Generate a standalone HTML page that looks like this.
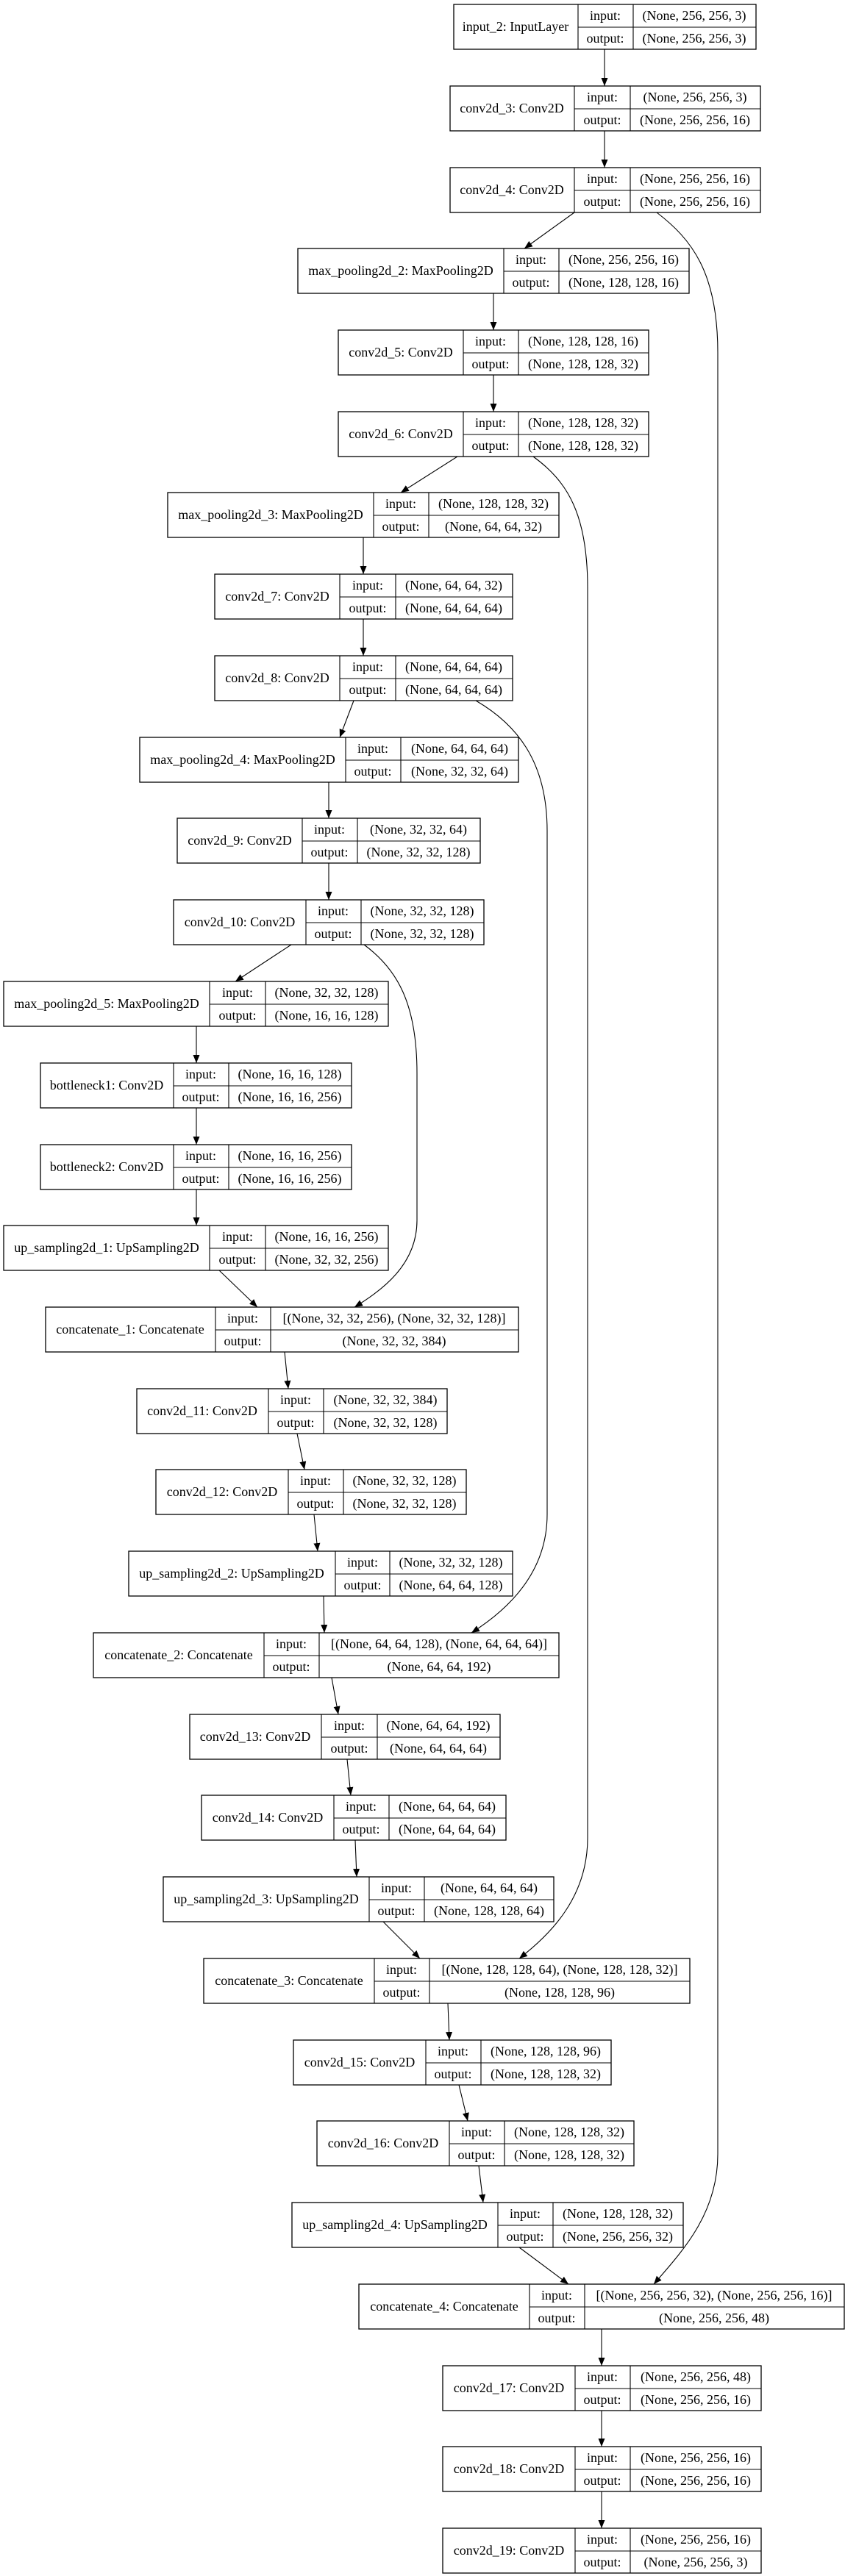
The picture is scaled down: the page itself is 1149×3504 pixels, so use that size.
<!DOCTYPE html>
<html><head><meta charset="utf-8"><style>
html,body{margin:0;padding:0;background:#fff}
svg{display:block}
text{font-family:"Liberation Serif","Times New Roman",serif;font-size:18px;fill:#000;text-anchor:middle}
.b{fill:#fff;stroke:#000;stroke-width:1.3}
.l{stroke:#000;stroke-width:1.1;fill:none}
</style></head><body>
<svg width="1149" height="3504" viewBox="0 0 1149 3504" xmlns="http://www.w3.org/2000/svg">
<defs><marker id="a" markerUnits="userSpaceOnUse" markerWidth="12" markerHeight="10" refX="11" refY="4.5" orient="auto"><path d="M0,0 L11,4.5 L0,9 z" fill="#000"/></marker></defs>
<g class="l" marker-end="url(#a)">
<path d="M822,67 L822,117"/><path d="M822,178 L822,228"/><path d="M781,289 L713,338"/>
<path d="M671,399 L671,449"/><path d="M671,510 L671,560"/><path d="M622,621 L545,670"/>
<path d="M494,731 L494,781"/><path d="M494,842 L494,892"/><path d="M481,953 L462,1003"/>
<path d="M447,1064 L447,1113"/><path d="M447,1174 L447,1224"/><path d="M396,1285 L320,1335"/>
<path d="M267,1396 L267,1446"/><path d="M267,1507 L267,1557"/><path d="M267,1618 L267,1667"/>
<path d="M298,1728 L350,1778"/><path d="M387,1839 L392,1889"/><path d="M404,1950 L414,1999"/>
<path d="M427,2060 L432,2110"/><path d="M440,2171 L441,2221"/><path d="M451,2282 L460,2332"/>
<path d="M472,2393 L477,2442"/><path d="M483,2503 L485,2553"/><path d="M521,2614 L571,2664"/>
<path d="M609,2725 L611,2775"/><path d="M624,2836 L636,2885"/><path d="M651,2946 L657,2996"/>
<path d="M706,3057 L773,3107"/><path d="M818,3168 L818,3218"/><path d="M818,3279 L818,3328"/>
<path d="M818,3389 L818,3439"/>
<path d="M893,289 C940,325 976,370 976,480 L976,2930 C976,3010 930,3060 889,3107"/>
<path d="M725,621 C772,655 799,700 799,800 L799,2500 C799,2580 750,2630 706,2664"/>
<path d="M647,953 C702,985 744,1035 744,1130 L744,2060 C744,2140 690,2190 641,2221"/>
<path d="M495,1285 C540,1318 567,1365 567,1460 L567,1660 C567,1720 520,1755 482,1778"/>
</g>

<g transform="translate(0,6)"><rect class="b" x="617" y="0" width="411" height="61"/><path class="l" d="M786,0V61M861,0V61M786,31H1028"/><text x="701" y="36">input_2: InputLayer</text><text x="823" y="21">input:</text><text x="823" y="52">output:</text><text x="944" y="21">(None, 256, 256, 3)</text><text x="944" y="52">(None, 256, 256, 3)</text></g>

<g transform="translate(0,117)"><rect class="b" x="612" y="0" width="422" height="61"/><path class="l" d="M781,0V61M857,0V61M781,31H1034"/><text x="696" y="36">conv2d_3: Conv2D</text><text x="819" y="21">input:</text><text x="819" y="52">output:</text><text x="945" y="21">(None, 256, 256, 3)</text><text x="945" y="52">(None, 256, 256, 16)</text></g>

<g transform="translate(0,228)"><rect class="b" x="612" y="0" width="422" height="61"/><path class="l" d="M781,0V61M857,0V61M781,31H1034"/><text x="696" y="36">conv2d_4: Conv2D</text><text x="819" y="21">input:</text><text x="819" y="52">output:</text><text x="945" y="21">(None, 256, 256, 16)</text><text x="945" y="52">(None, 256, 256, 16)</text></g>

<g transform="translate(0,338)"><rect class="b" x="405" y="0" width="532" height="61"/><path class="l" d="M685,0V61M760,0V61M685,31H937"/><text x="545" y="36">max_pooling2d_2: MaxPooling2D</text><text x="722" y="21">input:</text><text x="722" y="52">output:</text><text x="848" y="21">(None, 256, 256, 16)</text><text x="848" y="52">(None, 128, 128, 16)</text></g>

<g transform="translate(0,449)"><rect class="b" x="460" y="0" width="422" height="61"/><path class="l" d="M630,0V61M705,0V61M630,31H882"/><text x="545" y="36">conv2d_5: Conv2D</text><text x="667" y="21">input:</text><text x="667" y="52">output:</text><text x="793" y="21">(None, 128, 128, 16)</text><text x="793" y="52">(None, 128, 128, 32)</text></g>

<g transform="translate(0,560)"><rect class="b" x="460" y="0" width="422" height="61"/><path class="l" d="M630,0V61M705,0V61M630,31H882"/><text x="545" y="36">conv2d_6: Conv2D</text><text x="667" y="21">input:</text><text x="667" y="52">output:</text><text x="793" y="21">(None, 128, 128, 32)</text><text x="793" y="52">(None, 128, 128, 32)</text></g>

<g transform="translate(0,670)"><rect class="b" x="228" y="0" width="532" height="61"/><path class="l" d="M508,0V61M583,0V61M508,31H760"/><text x="368" y="36">max_pooling2d_3: MaxPooling2D</text><text x="545" y="21">input:</text><text x="545" y="52">output:</text><text x="671" y="21">(None, 128, 128, 32)</text><text x="671" y="52">(None, 64, 64, 32)</text></g>

<g transform="translate(0,781)"><rect class="b" x="292" y="0" width="405" height="61"/><path class="l" d="M462,0V61M538,0V61M462,31H697"/><text x="377" y="36">conv2d_7: Conv2D</text><text x="500" y="21">input:</text><text x="500" y="52">output:</text><text x="617" y="21">(None, 64, 64, 32)</text><text x="617" y="52">(None, 64, 64, 64)</text></g>

<g transform="translate(0,892)"><rect class="b" x="292" y="0" width="405" height="61"/><path class="l" d="M462,0V61M538,0V61M462,31H697"/><text x="377" y="36">conv2d_8: Conv2D</text><text x="500" y="21">input:</text><text x="500" y="52">output:</text><text x="617" y="21">(None, 64, 64, 64)</text><text x="617" y="52">(None, 64, 64, 64)</text></g>

<g transform="translate(0,1003)"><rect class="b" x="190" y="0" width="515" height="61"/><path class="l" d="M470,0V61M545,0V61M470,31H705"/><text x="330" y="36">max_pooling2d_4: MaxPooling2D</text><text x="507" y="21">input:</text><text x="507" y="52">output:</text><text x="625" y="21">(None, 64, 64, 64)</text><text x="625" y="52">(None, 32, 32, 64)</text></g>

<g transform="translate(0,1113)"><rect class="b" x="241" y="0" width="412" height="61"/><path class="l" d="M411,0V61M486,0V61M411,31H653"/><text x="326" y="36">conv2d_9: Conv2D</text><text x="448" y="21">input:</text><text x="448" y="52">output:</text><text x="569" y="21">(None, 32, 32, 64)</text><text x="569" y="52">(None, 32, 32, 128)</text></g>

<g transform="translate(0,1224)"><rect class="b" x="236" y="0" width="422" height="61"/><path class="l" d="M416,0V61M491,0V61M416,31H658"/><text x="326" y="36">conv2d_10: Conv2D</text><text x="453" y="21">input:</text><text x="453" y="52">output:</text><text x="574" y="21">(None, 32, 32, 128)</text><text x="574" y="52">(None, 32, 32, 128)</text></g>

<g transform="translate(0,1335)"><rect class="b" x="5" y="0" width="523" height="61"/><path class="l" d="M285,0V61M361,0V61M285,31H528"/><text x="145" y="36">max_pooling2d_5: MaxPooling2D</text><text x="323" y="21">input:</text><text x="323" y="52">output:</text><text x="444" y="21">(None, 32, 32, 128)</text><text x="444" y="52">(None, 16, 16, 128)</text></g>

<g transform="translate(0,1446)"><rect class="b" x="55" y="0" width="423" height="61"/><path class="l" d="M236,0V61M311,0V61M236,31H478"/><text x="145" y="36">bottleneck1: Conv2D</text><text x="273" y="21">input:</text><text x="273" y="52">output:</text><text x="394" y="21">(None, 16, 16, 128)</text><text x="394" y="52">(None, 16, 16, 256)</text></g>

<g transform="translate(0,1557)"><rect class="b" x="55" y="0" width="423" height="61"/><path class="l" d="M236,0V61M311,0V61M236,31H478"/><text x="145" y="36">bottleneck2: Conv2D</text><text x="273" y="21">input:</text><text x="273" y="52">output:</text><text x="394" y="21">(None, 16, 16, 256)</text><text x="394" y="52">(None, 16, 16, 256)</text></g>

<g transform="translate(0,1667)"><rect class="b" x="5" y="0" width="523" height="61"/><path class="l" d="M285,0V61M361,0V61M285,31H528"/><text x="145" y="36">up_sampling2d_1: UpSampling2D</text><text x="323" y="21">input:</text><text x="323" y="52">output:</text><text x="444" y="21">(None, 16, 16, 256)</text><text x="444" y="52">(None, 32, 32, 256)</text></g>

<g transform="translate(0,1778)"><rect class="b" x="62" y="0" width="643" height="61"/><path class="l" d="M293,0V61M368,0V61M293,31H705"/><text x="177" y="36">concatenate_1: Concatenate</text><text x="330" y="21">input:</text><text x="330" y="52">output:</text><text x="536" y="21">[(None, 32, 32, 256), (None, 32, 32, 128)]</text><text x="536" y="52">(None, 32, 32, 384)</text></g>

<g transform="translate(0,1889)"><rect class="b" x="186" y="0" width="422" height="61"/><path class="l" d="M365,0V61M440,0V61M365,31H608"/><text x="275" y="36">conv2d_11: Conv2D</text><text x="402" y="21">input:</text><text x="402" y="52">output:</text><text x="524" y="21">(None, 32, 32, 384)</text><text x="524" y="52">(None, 32, 32, 128)</text></g>

<g transform="translate(0,1999)"><rect class="b" x="212" y="0" width="422" height="61"/><path class="l" d="M392,0V61M467,0V61M392,31H634"/><text x="302" y="36">conv2d_12: Conv2D</text><text x="429" y="21">input:</text><text x="429" y="52">output:</text><text x="550" y="21">(None, 32, 32, 128)</text><text x="550" y="52">(None, 32, 32, 128)</text></g>

<g transform="translate(0,2110)"><rect class="b" x="175" y="0" width="522" height="61"/><path class="l" d="M456,0V61M530,0V61M456,31H697"/><text x="315" y="36">up_sampling2d_2: UpSampling2D</text><text x="493" y="21">input:</text><text x="493" y="52">output:</text><text x="613" y="21">(None, 32, 32, 128)</text><text x="613" y="52">(None, 64, 64, 128)</text></g>

<g transform="translate(0,2221)"><rect class="b" x="127" y="0" width="633" height="61"/><path class="l" d="M359,0V61M434,0V61M359,31H760"/><text x="243" y="36">concatenate_2: Concatenate</text><text x="396" y="21">input:</text><text x="396" y="52">output:</text><text x="597" y="21">[(None, 64, 64, 128), (None, 64, 64, 64)]</text><text x="597" y="52">(None, 64, 64, 192)</text></g>

<g transform="translate(0,2332)"><rect class="b" x="258" y="0" width="422" height="61"/><path class="l" d="M437,0V61M513,0V61M437,31H680"/><text x="347" y="36">conv2d_13: Conv2D</text><text x="475" y="21">input:</text><text x="475" y="52">output:</text><text x="596" y="21">(None, 64, 64, 192)</text><text x="596" y="52">(None, 64, 64, 64)</text></g>

<g transform="translate(0,2442)"><rect class="b" x="274" y="0" width="414" height="61"/><path class="l" d="M454,0V61M529,0V61M454,31H688"/><text x="364" y="36">conv2d_14: Conv2D</text><text x="491" y="21">input:</text><text x="491" y="52">output:</text><text x="608" y="21">(None, 64, 64, 64)</text><text x="608" y="52">(None, 64, 64, 64)</text></g>

<g transform="translate(0,2553)"><rect class="b" x="222" y="0" width="531" height="61"/><path class="l" d="M502,0V61M577,0V61M502,31H753"/><text x="362" y="36">up_sampling2d_3: UpSampling2D</text><text x="539" y="21">input:</text><text x="539" y="52">output:</text><text x="665" y="21">(None, 64, 64, 64)</text><text x="665" y="52">(None, 128, 128, 64)</text></g>

<g transform="translate(0,2664)"><rect class="b" x="277" y="0" width="661" height="61"/><path class="l" d="M509,0V61M584,0V61M509,31H938"/><text x="393" y="36">concatenate_3: Concatenate</text><text x="546" y="21">input:</text><text x="546" y="52">output:</text><text x="761" y="21">[(None, 128, 128, 64), (None, 128, 128, 32)]</text><text x="761" y="52">(None, 128, 128, 96)</text></g>

<g transform="translate(0,2775)"><rect class="b" x="399" y="0" width="432" height="61"/><path class="l" d="M579,0V61M654,0V61M579,31H831"/><text x="489" y="36">conv2d_15: Conv2D</text><text x="616" y="21">input:</text><text x="616" y="52">output:</text><text x="742" y="21">(None, 128, 128, 96)</text><text x="742" y="52">(None, 128, 128, 32)</text></g>

<g transform="translate(0,2885)"><rect class="b" x="431" y="0" width="431" height="61"/><path class="l" d="M611,0V61M686,0V61M611,31H862"/><text x="521" y="36">conv2d_16: Conv2D</text><text x="648" y="21">input:</text><text x="648" y="52">output:</text><text x="774" y="21">(None, 128, 128, 32)</text><text x="774" y="52">(None, 128, 128, 32)</text></g>

<g transform="translate(0,2996)"><rect class="b" x="397" y="0" width="532" height="61"/><path class="l" d="M677,0V61M752,0V61M677,31H929"/><text x="537" y="36">up_sampling2d_4: UpSampling2D</text><text x="714" y="21">input:</text><text x="714" y="52">output:</text><text x="840" y="21">(None, 128, 128, 32)</text><text x="840" y="52">(None, 256, 256, 32)</text></g>

<g transform="translate(0,3107)"><rect class="b" x="488" y="0" width="660" height="61"/><path class="l" d="M720,0V61M795,0V61M720,31H1148"/><text x="604" y="36">concatenate_4: Concatenate</text><text x="757" y="21">input:</text><text x="757" y="52">output:</text><text x="971" y="21">[(None, 256, 256, 32), (None, 256, 256, 16)]</text><text x="971" y="52">(None, 256, 256, 48)</text></g>

<g transform="translate(0,3218)"><rect class="b" x="602" y="0" width="433" height="61"/><path class="l" d="M782,0V61M857,0V61M782,31H1035"/><text x="692" y="36">conv2d_17: Conv2D</text><text x="819" y="21">input:</text><text x="819" y="52">output:</text><text x="946" y="21">(None, 256, 256, 48)</text><text x="946" y="52">(None, 256, 256, 16)</text></g>

<g transform="translate(0,3328)"><rect class="b" x="602" y="0" width="433" height="61"/><path class="l" d="M782,0V61M857,0V61M782,31H1035"/><text x="692" y="36">conv2d_18: Conv2D</text><text x="819" y="21">input:</text><text x="819" y="52">output:</text><text x="946" y="21">(None, 256, 256, 16)</text><text x="946" y="52">(None, 256, 256, 16)</text></g>

<g transform="translate(0,3439)"><rect class="b" x="602" y="0" width="433" height="61"/><path class="l" d="M782,0V61M857,0V61M782,31H1035"/><text x="692" y="36">conv2d_19: Conv2D</text><text x="819" y="21">input:</text><text x="819" y="52">output:</text><text x="946" y="21">(None, 256, 256, 16)</text><text x="946" y="52">(None, 256, 256, 3)</text></g>
</svg>
</body></html>
